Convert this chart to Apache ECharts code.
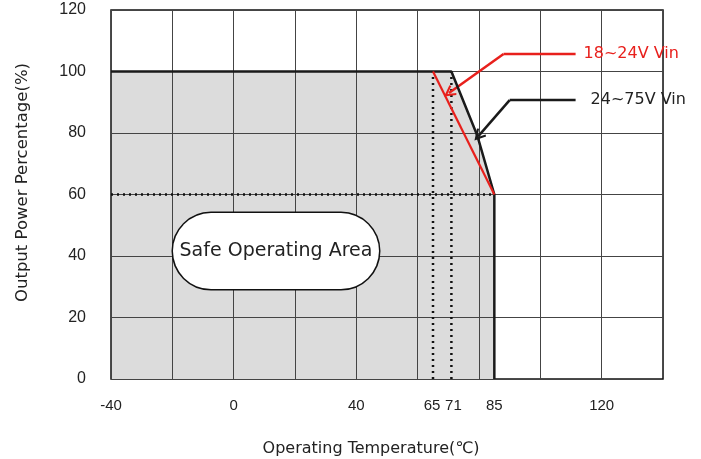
<!DOCTYPE html>
<html>
<head>
<meta charset="utf-8">
<script src="https://cdn.jsdelivr.net/npm/echarts@6/dist/echarts.min.js"></script>
<style>
html, body { margin: 0; padding: 0; background: #fff; }
#chart { width: 701px; height: 459px; }
</style>
</head>
<body>
<div id="chart"></div>
<script>
// derating curve values
var xLabels = [-40, 0, 40, 65, 71, 85, 120];
var curveX = [-40, 71, 79.5, 85, 85];      // 24~75V Vin (fills the safe area)
var curveY = [100, 100, 79, 60, 0];
var redX = [65, 85];                        // 18~24V Vin
var redY = [100, 60];
var dot65X = [65, 65], dot65Y = [0, 100];
var dot71X = [71, 71], dot71Y = [0, 100];
var dot60X = [-40, 85], dot60Y = [60, 60];
// callouts: end of text line -> bend -> tip of arrow
var redCallX = [111.5, 88, 70.2], redCallY = [105.7, 105.7, 93];
var blkCallX = [111.5, 90, 79.8], blkCallY = [90.7, 90.7, 79];

function pts(xs, ys) {
    return xs.map(function (x, i) { return [x, ys[i]]; });
}

var numFont = 'Liberation Sans';
var font = 'DejaVu Sans';
var gridLine = { lineStyle: { color: '#444', width: 1 } };
// open "V" arrow head, tip at the top
var chevron = 'path://M5,0 L10,9 L8.6,10 L5,3.6 L1.4,10 L0,9 Z';
var chart = echarts.init(document.getElementById('chart'));

chart.setOption({
    animation: false,
    grid: {
        left: 111, top: 10, right: 38, bottom: 80,
        outerBoundsMode: 'none', containLabel: false,
        show: true, borderColor: '#111', borderWidth: 1.5
    },
    xAxis: [{
        type: 'value', min: -40, max: 140, interval: 20, z: 3,
        axisLine: { show: false },
        axisTick: { show: false },
        axisLabel: { show: false },
        splitLine: gridLine
    }, {
        type: 'value', min: -40, max: 140, position: 'bottom',
        axisLine: { show: false },
        axisTick: { show: false },
        splitLine: { show: false },
        axisLabel: {
            customValues: xLabels, margin: 19,
            color: '#222', fontFamily: numFont, fontSize: 15,
            formatter: function (v) {
                if (v === 65) return '{l|65}';
                if (v === 71) return '{r|71}';
                return v;
            },
            rich: {
                l: { fontFamily: numFont, fontSize: 15, color: '#222', padding: [0, 2, 0, 0] },
                r: { fontFamily: numFont, fontSize: 15, color: '#222', padding: [0, 0, 0, 4] }
            }
        },
        name: 'Operating Temperature(\u2103)',
        nameLocation: 'middle', nameGap: 62,
        nameTextStyle: { color: '#222', fontFamily: font, fontSize: 16, padding: [0, 32, 0, 0] }
    }],
    yAxis: {
        type: 'value', min: 0, max: 120, interval: 20, z: 3,
        axisLine: { show: false },
        axisTick: { show: false },
        axisLabel: { margin: 25, color: '#222', fontFamily: numFont, fontSize: 16 },
        splitLine: gridLine,
        name: 'Output Power Percentage(%)',
        nameLocation: 'middle', nameGap: 80,
        nameTextStyle: { color: '#222', fontFamily: font, fontSize: 16.5, padding: [0, 0, 0, 24] }
    },
    series: [{
        type: 'line', data: pts(curveX, curveY), symbol: 'none', z: 1,
        lineStyle: { width: 0 },
        areaStyle: { color: '#dcdcdc', opacity: 1 }
    }, {
        type: 'line', data: pts(curveX, curveY), symbol: 'none', z: 5,
        lineStyle: { color: '#1a1a1a', width: 2.5 }
    }, {
        type: 'line', data: pts(dot65X, dot65Y), symbol: 'none', z: 4,
        lineStyle: { color: '#111', width: 2.5, type: [2, 4] }
    }, {
        type: 'line', data: pts(dot71X, dot71Y), symbol: 'none', z: 4,
        lineStyle: { color: '#111', width: 2.5, type: [2, 4] }
    }, {
        type: 'line', data: pts(dot60X, dot60Y), symbol: 'none', z: 4,
        lineStyle: { color: '#111', width: 2.5, type: [2, 4] }
    }, {
        type: 'line', data: pts(redX, redY), symbol: 'none', z: 5,
        lineStyle: { color: '#e8201c', width: 2.2 }
    }, {
        type: 'line', data: pts(redCallX.slice(0, 2), redCallY.slice(0, 2)), symbol: 'none', z: 5,
        lineStyle: { color: '#e8201c', width: 2.5 }
    }, {
        type: 'line', data: pts(blkCallX.slice(0, 2), blkCallY.slice(0, 2)), symbol: 'none', z: 5,
        lineStyle: { color: '#1a1a1a', width: 2.5 }
    }, {
        type: 'lines', coordinateSystem: 'cartesian2d', z: 5,
        symbol: ['none', chevron], symbolSize: [12, 12],
        data: [{
            coords: pts(redCallX.slice(1), redCallY.slice(1)),
            lineStyle: { color: '#e8201c', width: 2.5, opacity: 1 }
        }, {
            coords: pts(blkCallX.slice(1), blkCallY.slice(1)),
            lineStyle: { color: '#1a1a1a', width: 2.5, opacity: 1 }
        }]
    }, {
        type: 'scatter', symbolSize: 0, z: 6,
        itemStyle: { opacity: 1 },
        data: [
            { value: [redCallX[0], redCallY[0]], label: { formatter: '18~24V Vin', color: '#e8201c', distance: 8 } },
            { value: [blkCallX[0], blkCallY[0]], label: { formatter: '24~75V Vin', color: '#222', distance: 15 } },
            {
                value: [13.8, 41.6],
                label: {
                    position: 'inside', formatter: 'Safe Operating Area', color: '#222',
                    fontSize: 19, backgroundColor: '#fff', borderColor: '#111', borderWidth: 1.5,
                    borderRadius: 39, width: 206, height: 76, lineHeight: 76, align: 'center',
                    verticalAlign: 'middle'
                }
            }
        ],
        label: { show: true, position: 'right', fontFamily: font, fontSize: 16 }
    }]
});
</script>
</body>
</html>
